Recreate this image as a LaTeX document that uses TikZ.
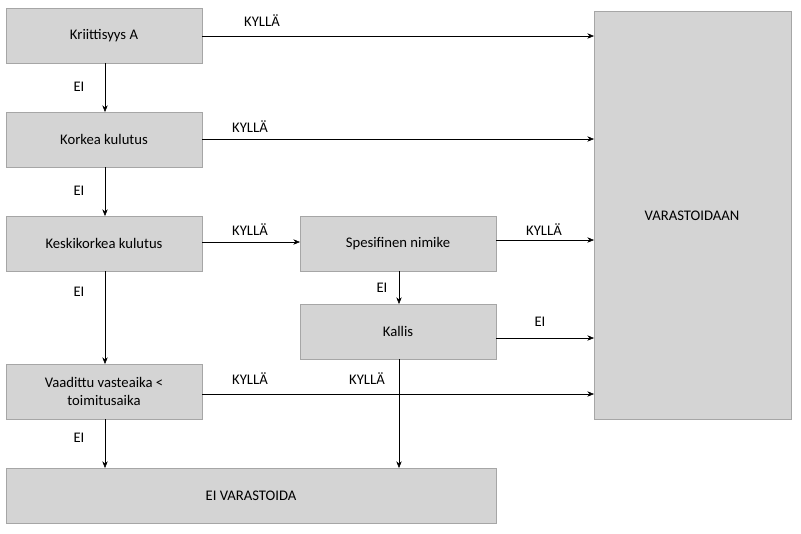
\documentclass[tikz,border=0pt]{standalone}
\usepackage{fontspec}
\setmainfont{Carlito}
\usetikzlibrary{arrows.meta}
\begin{document}
\begin{tikzpicture}[x=0.75pt,y=-0.75pt,
  box/.style={draw=black!35,fill=black!17,font=\fontsize{11}{13}\selectfont,align=center,inner sep=0pt},
  lab/.style={font=\fontsize{11}{13}\selectfont,inner sep=1pt},
  arr/.style={-{Stealth[length=5pt,width=4pt]},black}]
\useasboundingbox (0,0) rectangle (801,533);
\path[box] (6,8) rectangle (202,63) node[midway] (a) {Kriittisyys A};
\path[box] (6,112) rectangle (202,167) node[midway] (b) {Korkea kulutus};
\path[box] (6,216) rectangle (202,271) node[midway] (c) {Keskikorkea kulutus};
\path[box] (6,364) rectangle (202,419) node[midway] (d) {Vaadittu vasteaika <\\toimitusaika};
\path[box] (6,468) rectangle (496,523) node[midway] (e) {EI VARASTOIDA};
\path[box] (300,216) rectangle (496,271) node[midway] (s) {Spesifinen nimike};
\path[box] (300,304) rectangle (496,359) node[midway] (k) {Kallis};
\path[box] (594,11) rectangle (791,419) node[pos=0.5,yshift=-0.75pt*(-10)] (v) {};
\node[lab] at (692,216) {VARASTOIDAAN};
\coordinate (vL) at (594,0);
% horizontal arrows
\draw[arr] (202,36) -- (594,36);
\draw[arr] (202,139) -- (594,139);
\draw[arr] (202,242) -- (300,242);
\draw[arr] (496,240) -- (594,240);
\draw[arr] (496,338) -- (594,338);
\draw[arr] (202,394) -- (594,394);
% vertical
\draw[arr] (105,63) -- (105,112);
\draw[arr] (105,167) -- (105,216);
\draw[arr] (105,271) -- (105,364);
\draw[arr] (105,419) -- (105,468);
\draw[arr] (399,271) -- (399,304);
\draw[arr] (399,359) -- (399,468);
% labels
\node[lab] at (262,21) {KYLLÄ};
\node[lab] at (250,127) {KYLLÄ};
\node[lab] at (250,230) {KYLLÄ};
\node[lab] at (544,230) {KYLLÄ};
\node[lab] at (540,322) {EI};
\node[lab] at (250,379) {KYLLÄ};
\node[lab] at (367,379) {KYLLÄ};
\node[lab] at (382,288) {EI};
\node[lab] at (79,87) {EI};
\node[lab] at (79,191) {EI};
\node[lab] at (79,292) {EI};
\node[lab] at (79,438) {EI};
\end{tikzpicture}
\end{document}
